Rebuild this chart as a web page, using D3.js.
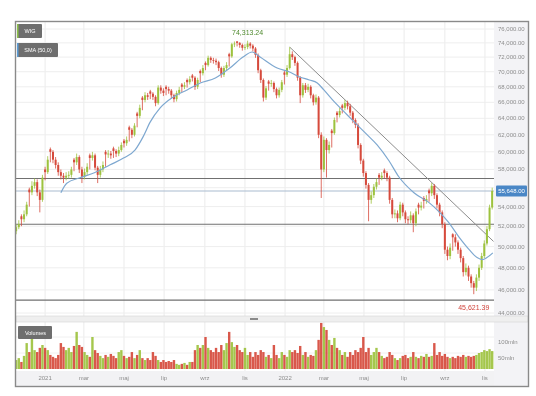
<!DOCTYPE html>
<html lang="pl">
  <head>
    <meta charset="utf-8" />
    <title>WIG</title>
    <script src="https://cdn.jsdelivr.net/npm/d3@7"></script>
    <style>
      html, body { margin: 0; padding: 0; background: #fff; }
      svg { display: block; font-family: "Liberation Sans", Arial, sans-serif; filter: blur(0.3px); }
    </style>
  </head>
  <body>
    <script>
      // candles every 4 calendar days, values in thousands of points
      var startDate = new Date(2020, 10, 18)
      var stepDays = 4

      var opens = [51.5,51.9,53.0,52.7,53.2,55.8,55.5,56.2,56.6,55.5,
        54.7,58.0,57.7,60.3,60.0,59.1,58.5,57.7,57.3,57.1,
        57.3,57.4,59.1,58.8,59.4,58.0,57.2,57.7,59.6,59.3,
        59.6,58.2,57.4,58.0,60.0,59.7,59.8,60.4,60.1,59.8,
        60.2,61.3,61.0,62.9,62.6,62.0,64.6,64.3,66.6,66.3,
        66.9,67.4,67.1,66.7,65.9,67.9,67.5,68.0,67.7,67.5,
        66.9,66.4,67.2,68.3,68.0,68.9,68.6,69.5,69.2,68.0,
        70.1,69.8,71.2,70.9,71.9,71.6,71.5,71.3,70.5,69.6,
        70.5,72.4,72.1,73.8,74.2,74.0,73.7,73.3,73.4,73.9,
        73.6,73.2,72.3,70.2,68.9,66.6,68.7,68.4,68.5,67.7,
        66.9,67.6,69.9,69.6,70.5,72.4,72.0,71.2,69.2,66.9,
        68.2,67.6,68.0,66.9,66.0,66.6,62.0,58.0,61.4,60.2,
        62.5,62.2,64.7,64.4,65.6,65.3,65.9,65.5,64.7,63.8,
        63.2,60.8,59.0,57.6,56.3,54.7,55.2,56.1,57.4,57.1,
        57.9,57.6,57.1,54.7,53.2,53.3,52.8,54.2,53.4,52.7,
        52.6,53.1,52.3,54.2,53.9,54.9,54.6,55.7,55.4,56.2,
        55.2,54.2,53.4,52.2,49.7,49.1,51.2,50.9,50.4,49.7,
        48.9,47.6,48.0,47.2,46.6,46.2,47.1,48.0,49.1,50.3,
        51.7,53.9]
      var closes = [51.9,52.2,52.7,53.2,54.2,55.5,56.2,56.6,55.5,54.7,
        57.1,57.7,59.1,60.0,59.1,58.5,57.7,57.3,57.1,57.3,
        57.4,58.0,58.8,59.4,58.0,57.2,57.7,58.3,59.3,59.6,
        58.2,57.4,58.0,58.5,59.7,59.8,59.6,60.1,59.8,60.2,
        60.8,61.0,61.4,62.6,62.0,63.1,64.3,65.3,66.3,66.9,
        66.7,67.1,66.7,65.9,67.9,67.5,67.2,67.7,67.5,66.9,
        66.4,67.2,67.6,68.0,68.2,68.6,69.0,69.2,68.0,68.9,
        69.8,70.5,70.9,71.9,71.6,71.5,71.3,70.5,69.6,70.5,
        70.9,72.1,73.8,73.9,74.0,73.7,73.3,73.4,73.9,73.6,
        73.2,72.3,70.2,68.9,66.6,67.8,68.4,68.5,67.7,66.9,
        67.6,68.6,69.6,70.5,72.4,72.0,71.2,69.2,66.9,68.2,
        67.6,68.0,66.9,66.0,66.6,62.0,58.0,61.4,60.2,60.8,
        62.2,63.8,64.4,64.9,65.3,65.9,65.5,64.7,63.8,63.2,
        60.8,59.0,57.6,56.3,54.7,55.2,56.1,56.6,57.1,57.3,
        57.6,57.1,54.7,53.2,53.3,52.8,54.2,53.4,52.7,52.6,
        53.1,52.3,53.5,53.9,54.1,54.6,54.8,55.4,56.2,55.2,
        54.2,53.4,52.2,49.7,49.1,49.9,50.9,50.4,49.7,48.9,
        47.6,48.0,47.2,46.6,46.2,47.1,48.0,49.1,50.3,51.7,
        53.9,55.648]
      var highs = [52.2,52.6,53.2,53.6,54.5,56.0,56.7,57.0,56.9,55.8,
        57.4,58.3,59.5,60.5,60.2,59.4,58.8,58.0,57.6,57.7,
        57.8,58.3,59.3,59.8,59.6,58.3,58.1,58.7,59.8,60.0,
        59.8,58.4,58.4,58.9,60.2,60.2,60.1,60.6,60.3,60.6,
        61.1,61.5,61.8,63.1,62.8,63.4,64.8,65.7,66.8,67.3,
        67.2,67.6,67.3,66.9,68.2,68.2,67.8,68.2,68.0,67.7,
        67.1,67.5,68.0,68.5,68.6,69.1,69.4,69.7,69.4,69.2,
        70.3,70.9,71.4,72.2,72.1,71.9,71.8,71.5,70.7,70.8,
        71.3,72.6,74.0,74.2,74.25,74.1,73.9,73.8,74.31324,74.1,
        73.8,73.4,72.5,70.4,69.1,68.1,68.9,68.9,68.7,67.9,
        67.9,68.9,70.1,70.9,73.4,72.8,72.2,71.4,69.4,68.5,
        68.5,68.4,68.2,67.1,67.0,66.8,62.3,61.8,61.6,61.2,
        62.7,64.1,64.9,65.3,65.8,66.3,66.2,65.8,64.9,64.0,
        63.4,61.0,59.2,57.8,56.5,55.6,56.4,57.0,57.6,57.7,
        58.1,57.8,57.3,54.9,53.7,53.6,54.5,54.4,53.6,53.0,
        53.5,53.3,53.8,54.4,54.5,55.1,55.2,55.9,56.5,56.4,
        55.4,54.4,53.6,52.4,50.0,50.3,51.3,51.2,50.6,49.9,
        49.1,48.4,48.2,47.4,46.8,47.4,48.3,49.4,50.6,52.0,
        54.2,56.0]
      var lows = [51.2,51.7,52.0,52.4,53.0,54.0,55.2,55.9,55.1,53.4,
        54.5,56.8,57.5,58.8,58.7,58.1,57.3,56.9,56.5,56.8,
        57.0,57.1,57.8,58.5,57.6,56.5,56.9,57.4,58.0,59.0,
        57.9,56.5,57.1,57.7,58.3,59.3,59.2,59.3,59.4,59.5,
        60.0,60.5,60.7,61.2,61.6,61.8,62.9,64.0,65.0,66.0,
        66.3,66.4,66.3,65.5,65.7,67.1,66.8,66.9,67.1,66.5,
        66.0,66.1,66.9,67.3,67.7,67.9,68.3,68.7,67.6,67.7,
        68.6,69.5,70.2,70.7,71.2,71.1,70.9,70.1,69.2,69.3,
        70.2,70.7,71.9,73.4,73.5,73.3,72.9,73.0,73.1,73.2,
        72.8,71.9,69.8,68.5,66.1,66.3,67.5,68.0,67.3,66.5,
        66.6,67.3,68.3,69.3,70.3,71.6,70.8,68.8,65.9,66.6,
        67.2,67.3,66.5,65.6,65.7,61.6,54.9,57.7,57.1,59.8,
        60.5,62.0,63.5,64.1,64.6,65.0,65.1,64.3,63.4,62.8,
        60.4,58.6,57.2,55.9,52.5,54.3,54.9,55.8,56.3,56.8,
        57.0,56.7,54.3,52.8,52.8,52.4,52.6,53.0,52.3,52.2,
        52.3,51.4,52.0,53.2,53.6,53.8,54.3,54.5,55.1,54.8,
        53.8,53.0,51.8,49.3,48.7,48.8,49.6,50.0,49.3,48.5,
        47.2,47.3,46.8,46.2,45.62139,45.9,46.8,47.8,48.9,50.1,
        51.5,53.7]
      // volume in mln
      var volumes = [28,34,22,41,81,53,103,59,53,66,
        75,66,59,44,38,34,44,81,69,59,
        66,53,72,116,75,69,53,44,38,100,
        59,50,41,34,44,38,47,41,34,53,
        59,41,34,38,53,34,44,59,34,28,
        34,28,53,41,28,22,28,22,25,22,
        28,16,13,16,19,13,22,22,59,75,
        66,75,100,66,59,53,66,53,75,59,
        81,116,84,69,75,59,53,66,44,53,
        38,53,44,59,53,38,44,34,75,44,
        34,53,44,38,59,53,59,50,72,44,
        53,38,44,41,59,91,144,131,122,91,
        75,97,66,59,44,53,38,53,44,59,
        53,66,100,53,66,44,53,66,53,41,
        34,38,53,44,34,28,34,41,44,34,
        38,53,38,34,41,38,47,38,41,81,
        44,53,41,47,38,34,38,34,41,38,
        44,38,41,38,41,44,50,53,59,56,
        62,56]

      // SMA (50)
      var smaDates = ["2021-01-25","2021-02-03","2021-02-23","2021-03-17","2021-04-10","2021-05-01",
        "2021-05-18","2021-05-30","2021-06-10","2021-06-25","2021-07-15","2021-08-05","2021-08-25",
        "2021-09-17","2021-10-09","2021-10-29","2021-11-12","2021-11-24","2021-12-20","2022-01-08",
        "2022-01-23","2022-02-07","2022-02-19","2022-03-01","2022-03-17","2022-04-01","2022-04-16",
        "2022-05-06","2022-05-21","2022-06-08","2022-06-23","2022-07-16","2022-08-08","2022-08-23",
        "2022-09-07","2022-09-22","2022-10-08","2022-10-20","2022-10-28","2022-11-04","2022-11-13"]
      var smaValues = [55.46,56.48,57.08,57.63,58.52,59.31,60.23,61.75,63.56,65.30,66.69,67.59,68.50,
        69.16,70.50,72.01,72.71,72.01,70.50,69.96,69.30,68.90,68.50,67.59,66.05,64.80,63.56,61.99,
        60.81,58.98,57.19,55.46,54.41,53.48,52.36,50.97,49.71,48.95,48.76,48.95,49.40]

      var trendDates = ["2022-01-08", "2022-11-14"]
      var trendValues = [73.4, 50.5]
      var levelValues = [57.0, 52.2, 45.1]

      var yTicks = [44,46,48,50,52,54,56,58,60,62,64,66,68,70,72,74,76]
      var volTicks = [50, 100]
      var volTickLabels = ["50mln", "100mln"]
      var xTickDates = ["2021-01-01","2021-03-01","2021-05-01","2021-07-01","2021-09-01","2021-11-01",
        "2022-01-01","2022-03-01","2022-05-01","2022-07-01","2022-09-01","2022-11-01"]
      var xTickLabels = ["2021","mar","maj","lip","wrz","lis","2022","mar","maj","lip","wrz","lis"]

      var parse = d3.timeParse("%Y-%m-%d")
      var candles = closes.map(function(c, i) {
        return {
          date: d3.timeDay.offset(startDate, i * stepDays),
          open: opens[i] * 1000, high: highs[i] * 1000, low: lows[i] * 1000,
          close: c * 1000, volume: volumes[i]
        }
      })
      var sma = smaDates.map(function(d, i) { return {date: parse(d), value: smaValues[i] * 1000} })

      var width = 536, height = 396
      var svg = d3.select("body").append("svg")
                  .attr("width", width)
                  .attr("height", height)

      var plotLeft = 16, plotRight = 494
      var x = d3.scaleTime()
                .domain([new Date(2020, 10, 17), new Date(2022, 10, 14)])
                .range([15.5, 493.5])
      var y = d3.scaleLog()
                .domain([44000, 76000])
                .range([313, 29])
      var yVol = d3.scaleLinear()
                   .domain([0, 100])
                   .range([369, 337])

      var upColor = "#9dc23e", downColor = "#d64a3c"
      var fmt = d3.format(",.2f")
      var lastClose = candles[candles.length - 1].close

      // background strips
      svg.append("rect").attr("x", plotRight).attr("y", 22).attr("width", 528 - plotRight).attr("height", 364)
         .attr("fill", "#f3f3f6")
      svg.append("rect").attr("x", plotLeft).attr("y", 371).attr("width", plotRight - plotLeft).attr("height", 15)
         .attr("fill", "#f2f2f4")

      // grid
      svg.append("g").selectAll("line")
         .data(xTickDates)
         .enter().append("line")
           .attr("x1", function(d) { return x(parse(d)) })
           .attr("x2", function(d) { return x(parse(d)) })
           .attr("y1", 22).attr("y2", 371)
           .attr("stroke", "#ebebeb")
      svg.append("g").selectAll("line")
         .data(yTicks)
         .enter().append("line")
           .attr("x1", plotLeft).attr("x2", plotRight)
           .attr("y1", function(d) { return y(d * 1000) })
           .attr("y2", function(d) { return y(d * 1000) })
           .attr("stroke", "#eeeeee")
      svg.append("g").selectAll("line")
         .data(volTicks)
         .enter().append("line")
           .attr("x1", plotLeft).attr("x2", plotRight)
           .attr("y1", function(d) { return yVol(d) })
           .attr("y2", function(d) { return yVol(d) })
           .attr("stroke", "#f0f0f0")

      // pane separator
      svg.append("rect").attr("x", plotLeft).attr("y", 316).attr("width", 528 - plotLeft).attr("height", 6)
         .attr("fill", "#efefef").attr("stroke", "#d4d4d4").attr("stroke-width", 0.6)
      svg.append("rect").attr("x", 250).attr("y", 318).attr("width", 8).attr("height", 2).attr("fill", "#8a8a8a")

      // support / resistance levels
      svg.append("g").selectAll("line")
         .data(levelValues)
         .enter().append("line")
           .attr("x1", plotLeft).attr("x2", plotRight)
           .attr("y1", function(d) { return y(d * 1000) })
           .attr("y2", function(d) { return y(d * 1000) })
           .attr("stroke", "#707070").attr("stroke-width", 1.1)

      svg.append("line")
         .attr("x1", plotLeft).attr("x2", plotRight)
         .attr("y1", y(lastClose)).attr("y2", y(lastClose))
         .attr("stroke", "#a9bccf").attr("stroke-width", 1.1)

      // trend line
      svg.append("line")
         .attr("x1", x(parse(trendDates[0]))).attr("y1", y(trendValues[0] * 1000))
         .attr("x2", x(parse(trendDates[1]))).attr("y2", y(trendValues[1] * 1000))
         .attr("stroke", "#8c8c8c").attr("stroke-width", 1)

      // candles
      var cg = svg.append("g")
      cg.selectAll("line")
        .data(candles)
        .enter().append("line")
          .attr("x1", function(d) { return x(d.date) })
          .attr("x2", function(d) { return x(d.date) })
          .attr("y1", function(d) { return y(d.high) })
          .attr("y2", function(d) { return y(d.low) })
          .attr("stroke", function(d) { return d.close >= d.open ? upColor : downColor })
          .attr("stroke-width", 0.8)
      cg.selectAll("rect")
        .data(candles)
        .enter().append("rect")
          .attr("x", function(d) { return x(d.date) - 1 })
          .attr("y", function(d) { return y(Math.max(d.open, d.close)) })
          .attr("width", 2)
          .attr("height", function(d) { return Math.max(0.8, Math.abs(y(d.open) - y(d.close))) })
          .attr("fill", function(d) { return d.close >= d.open ? upColor : downColor })

      // SMA
      svg.append("path")
         .datum(sma)
         .attr("fill", "none")
         .attr("stroke", "#7ea8d0")
         .attr("stroke-width", 1.2)
         .attr("d", d3.line()
                      .curve(d3.curveMonotoneX)
                      .x(function(d) { return x(d.date) })
                      .y(function(d) { return y(d.value) }))

      // volume bars
      svg.append("g").selectAll("rect")
         .data(candles)
         .enter().append("rect")
           .attr("x", function(d) { return x(d.date) - 1.2 })
           .attr("y", function(d) { return yVol(d.volume) })
           .attr("width", 2.4)
           .attr("height", function(d) { return yVol(0) - yVol(d.volume) })
           .attr("fill", function(d) { return d.close >= d.open ? upColor : downColor })
           .attr("opacity", 0.92)

      // y axis labels, the one under the price tag is hidden
      svg.append("g").selectAll("text")
         .data(yTicks.filter(function(d) { return Math.abs(y(d * 1000) - y(lastClose)) > 8 }))
         .enter().append("text")
           .attr("x", 498)
           .attr("y", function(d) { return y(d * 1000) + 2 })
           .style("font-size", "6px")
           .attr("fill", "#8d8d8d")
           .text(function(d) { return fmt(d * 1000) })

      // current price tag
      svg.append("rect").attr("x", 496).attr("y", y(lastClose) - 5.5).attr("width", 31).attr("height", 11)
         .attr("fill", "#4a87c6").attr("rx", 1)
      svg.append("text").attr("x", 511.5).attr("y", y(lastClose) + 2.2)
         .attr("text-anchor", "middle").style("font-size", "6px").attr("fill", "#fff")
         .text(fmt(lastClose))

      // volume labels
      svg.append("g").selectAll("text")
         .data(volTicks)
         .enter().append("text")
           .attr("x", 498)
           .attr("y", function(d) { return yVol(d) + 7 })
           .style("font-size", "6px")
           .attr("fill", "#8d8d8d")
           .text(function(d, i) { return volTickLabels[i] })

      // x axis labels
      svg.append("g").selectAll("text")
         .data(xTickDates)
         .enter().append("text")
           .attr("x", function(d) { return x(parse(d)) })
           .attr("y", 380)
           .attr("text-anchor", "middle")
           .style("font-size", "6px")
           .attr("fill", "#8d8d8d")
           .text(function(d, i) { return xTickLabels[i] })

      // max / min labels
      var peak = candles.reduce(function(a, b) { return b.high > a.high ? b : a })
      var trough = candles.reduce(function(a, b) { return b.low < a.low ? b : a })
      svg.append("text").attr("x", x(peak.date)).attr("y", y(peak.high) - 6)
         .attr("text-anchor", "middle").style("font-size", "7px").attr("fill", "#4f8a2e")
         .text(fmt(peak.high))
      svg.append("text").attr("x", x(trough.date)).attr("y", y(trough.low) + 16)
         .attr("text-anchor", "middle").style("font-size", "7px").attr("fill", "#d0433b")
         .text(fmt(trough.low))

      // legend boxes
      function legendBox(bx, by, w, h, label, stripe) {
        svg.append("rect").attr("x", bx).attr("y", by).attr("width", w).attr("height", h)
           .attr("fill", "#6e6e6e").attr("rx", 1)
        if (stripe) {
          svg.append("rect").attr("x", bx).attr("y", by).attr("width", 1.5).attr("height", h).attr("fill", stripe)
        }
        svg.append("text").attr("x", bx + w / 2 + 0.5).attr("y", by + h / 2 + 2)
           .attr("text-anchor", "middle").style("font-size", "5.5px").attr("fill", "#ffffff")
           .text(label)
      }
      legendBox(17, 24, 25, 14, "WIG", "#8cc04a")
      legendBox(17, 43, 41, 14, "SMA (50,0)", "#5b9bd5")
      legendBox(18, 326, 34, 13, "Volumes", null)

      // outer frame
      svg.append("rect").attr("x", 15.5).attr("y", 21.5).attr("width", 513).attr("height", 365)
         .attr("fill", "none").attr("stroke", "#8a8a8a").attr("stroke-width", 1.4)
    </script>
  </body>
</html>
